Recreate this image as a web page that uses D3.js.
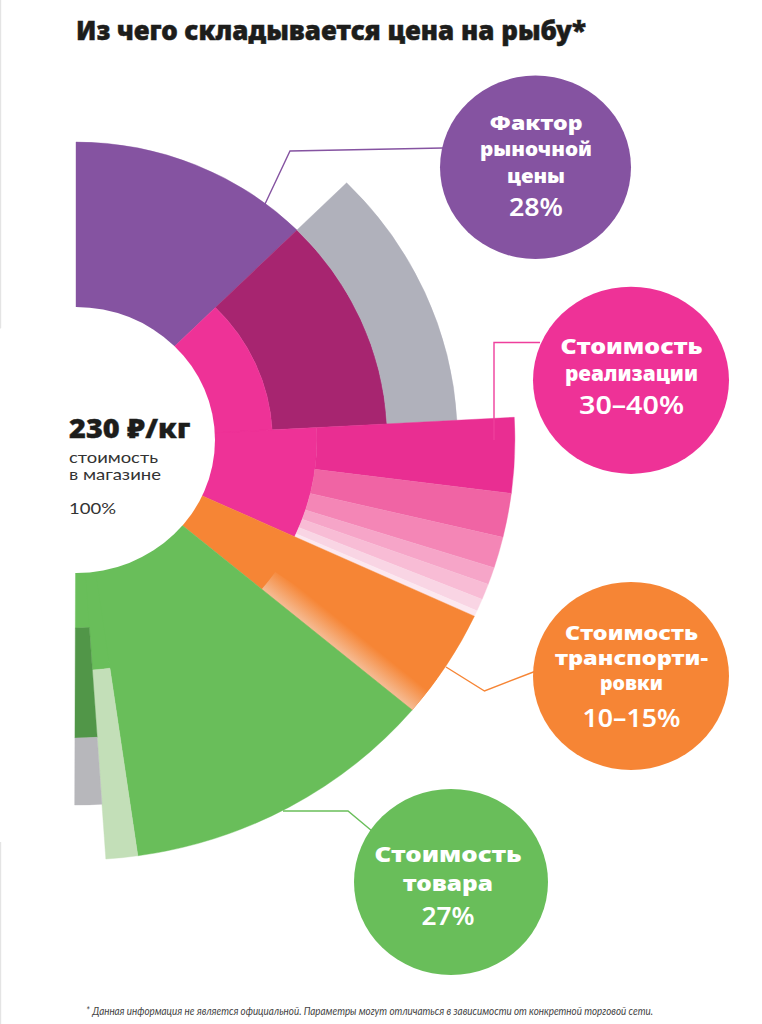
<!DOCTYPE html>
<html lang="ru">
<head>
<meta charset="utf-8">
<title>Из чего складывается цена на рыбу</title>
<script src="https://cdn.jsdelivr.net/npm/d3@7"></script>
<style>
  body { margin: 0; background: #fff; }
  svg { display: block; }
</style>
</head>
<body>
<div id="chart-area"></div>
<script>
const width = 762;
const height = 1024;

const heavy = '"Noto Sans", Roboto, sans-serif';
const light = 'Lato, "Open Sans", sans-serif';

// sectors: angles in degrees clockwise from 12 o'clock, r0/r1 are ring radii
const sectors = [
  { a0: 0,     a1: 45.2,  r0: 100,   r1: 298,   fill: '#8553a1' },
  { a0: 45.2,  a1: 86.9,  r0: 188,   r1: 298,   fill: '#a72570' },
  { a0: 45.2,  a1: 86.9,  r0: 298,   r1: 365,   fill: '#b0b1bb' },
  { a0: 45.2,  a1: 86.9,  r0: 100,   r1: 188,   fill: '#ee3297' },
  { a0: 86.9,  a1: 114.8, r0: 100,   r1: 230.5, fill: '#ee3297' },
  { a0: 86.9,  a1: 97.3,  r0: 230.5, r1: 420,   fill: '#e92e92' },
  { a0: 97.3,  a1: 103.4, r0: 230.5, r1: 420,   fill: '#f064a4' },
  { a0: 103.4, a1: 107.7, r0: 230.5, r1: 420,   fill: '#f486b6' },
  { a0: 107.7, a1: 110.1, r0: 230.5, r1: 420,   fill: '#f6a5c8' },
  { a0: 110.1, a1: 112.3, r0: 230.5, r1: 420,   fill: '#f8bcd5' },
  { a0: 112.3, a1: 114,   r0: 230.5, r1: 420,   fill: '#f9d5e4' },
  { a0: 114,   a1: 114.8, r0: 230.5, r1: 420,   fill: '#fce8f0' },
  { a0: 114.8, a1: 130,   r0: 100,   r1: 420,   fill: '#f68535' },
  { a0: 124.7, a1: 130,   r0: 232,   r1: 420,   fill: 'url(#fade)' },
  { a0: 130,   a1: 171.9, r0: 100,   r1: 420,   fill: '#69be5a' },
  { a0: 171.9, a1: 176.1, r0: 100,   r1: 230.5, fill: '#69be5a' },
  { a0: 176.1, a1: 180.2, r0: 100,   r1: 188,   fill: '#69be5a' },
  { a0: 171.9, a1: 176.1, r0: 230.5, r1: 420,   fill: '#c3dfb8' },
  { a0: 176.1, a1: 180.2, r0: 188,   r1: 298,   fill: '#519648' },
  { a0: 176.1, a1: 180.2, r0: 298,   r1: 365,   fill: '#b7b7bb' }
];

const leaders = [
  { color: '#8553a1', points: [[265, 204], [290, 151], [443, 148]] },
  { color: '#ee3f9c', points: [[494, 440], [494, 342.5], [540, 342.5]] },
  { color: '#f68535', points: [[446, 667], [484.5, 691], [536, 671]] },
  { color: '#69be5a', points: [[283, 811], [348, 811], [372, 831]] }
];

const bubbles = [
  { cx: 535.5, cy: 167.3, rx: 95.5, ry: 91.7, fill: '#8553a1', size: 20, labels: [
    { text: 'Фактор', y: 130, w: 93 },
    { text: 'рыночной', y: 156, w: 112 },
    { text: 'цены', y: 182.5, w: 58 },
    { text: '28%', y: 216, w: 54, pct: true }
  ] },
  { cx: 631, cy: 380.3, rx: 98, ry: 93.6, fill: '#ee3297', size: 20.5, labels: [
    { text: 'Стоимость', y: 354, w: 142 },
    { text: 'реализации', y: 381, w: 133 },
    { text: '30–40%', y: 414, w: 105, pct: true }
  ] },
  { cx: 631, cy: 676, rx: 98, ry: 94, fill: '#f68535', size: 19.2, labels: [
    { text: 'Стоимость', y: 640, w: 133 },
    { text: 'транспорти-', y: 665, w: 153 },
    { text: 'ровки', y: 690, w: 63 },
    { text: '10–15%', y: 726.5, w: 98, pct: true }
  ] },
  { cx: 451, cy: 882, rx: 97, ry: 93, fill: '#69be5a', size: 21, labels: [
    { text: 'Стоимость', y: 862, w: 147, x: 448 },
    { text: 'товара', y: 890.5, w: 90, x: 448 },
    { text: '27%', y: 925, w: 53, x: 448, pct: true }
  ] }
];

// faint scan marks along the left edge of the page
const edgeMarks = [[0, 385], [842, 1024]];

const svg = d3.select('#chart-area')
  .append('svg')
    .attr('width', width)
    .attr('height', height);

svg.selectAll('.edge')
  .data(edgeMarks)
  .enter()
  .append('rect')
    .attr('class', 'edge')
    .attr('x', 0)
    .attr('y', d => d[0])
    .attr('width', 1.2)
    .attr('height', d => d[1] - d[0])
    .attr('fill', '#e4e4e4');

// the fan is stretched a little wider than tall
const fan = svg.append('g')
  .attr('transform', 'translate(76, 440) scale(1.045, 1)');

const grad = svg.append('defs')
  .append('linearGradient')
    .attr('id', 'fade')
    .attr('gradientUnits', 'userSpaceOnUse')
    .attr('x1', 0).attr('y1', 0)
    .attr('x2', 15.4).attr('y2', -18.4);
grad.append('stop').attr('offset', 0).attr('stop-color', '#f5bb93');
grad.append('stop').attr('offset', 1).attr('stop-color', '#f68535');

const angle = d3.scaleLinear().domain([0, 360]).range([0, 2 * Math.PI]);

const arc = d3.arc()
  .startAngle(d => angle(d.a0))
  .endAngle(d => angle(d.a1))
  .innerRadius(d => d.r0)
  .outerRadius(d => d.r1);

// same colour sectors go in one path so no seam shows between them
fan.selectAll('path')
  .data(d3.groups(sectors, d => d.fill))
  .enter()
  .append('path')
    .attr('d', d => d[1].map(arc).join(''))
    .attr('fill', d => d[0])
    .attr('stroke', d => d[0].startsWith('url') ? 'none' : d[0])
    .attr('stroke-width', 0.4);

// hole in the middle
fan.append('circle')
  .attr('r', 133)
  .attr('fill', '#fff');

const line = d3.line();

svg.selectAll('.leader')
  .data(leaders)
  .enter()
  .append('path')
    .attr('class', 'leader')
    .attr('d', d => line(d.points))
    .attr('fill', 'none')
    .attr('stroke', d => d.color)
    .attr('stroke-width', 1.4);

svg.selectAll('.bubble')
  .data(bubbles)
  .enter()
  .append('ellipse')
    .attr('class', 'bubble')
    .attr('cx', d => d.cx)
    .attr('cy', d => d.cy)
    .attr('rx', d => d.rx)
    .attr('ry', d => d.ry)
    .attr('fill', d => d.fill);

const putText = (t, x, y, size, weight, family, color, w, anchor) => svg.append('text')
  .text(t)
  .attr('x', x)
  .attr('y', y)
  .attr('font-size', size)
  .attr('font-weight', weight)
  .attr('font-family', family)
  .attr('fill', color)
  .attr('text-anchor', anchor || 'start')
  .attr('textLength', w)
  .attr('lengthAdjust', 'spacingAndGlyphs');

bubbles.forEach(b => {
  b.labels.forEach(l => {
    putText(l.text, l.x || b.cx + 0.5, l.y,
      l.pct ? 25 : b.size, l.pct ? 600 : 900, heavy, '#fff', l.w, 'middle');
  });
});

putText('Из чего складывается цена на рыбу*', 76, 40, 27, 900, heavy, '#1d1d1b', 510)
  .attr('stroke', '#1d1d1b')
  .attr('stroke-width', 0.5);

putText('230 ₽/кг', 69, 438, 27, 900, heavy, '#1d1d1b', 121)
  .attr('stroke', '#1d1d1b')
  .attr('stroke-width', 0.4);
putText('стоимость', 69, 463, 15, 400, light, '#333', 89);
putText('в магазине', 69, 480, 15, 400, light, '#333', 92);
putText('100%', 69, 514, 15, 400, light, '#333', 47);

svg.append('text')
  .text('* Данная информация не является официальной. Параметры могут отличаться в зависимости от конкретной торговой сети.')
  .attr('x', 86)
  .attr('y', 1015)
  .attr('font-size', 10.5)
  .attr('font-style', 'italic')
  .attr('font-family', light)
  .attr('fill', '#444')
  .attr('textLength', 567)
  .attr('lengthAdjust', 'spacingAndGlyphs');
</script>
</body>
</html>
